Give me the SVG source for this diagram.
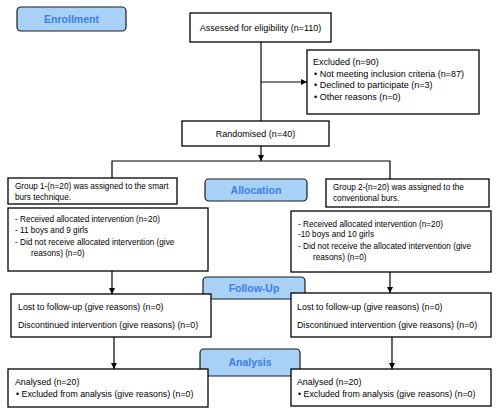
<svg xmlns="http://www.w3.org/2000/svg" width="500" height="414" viewBox="0 0 500 414">
<defs>
<marker id="ah" viewBox="0 0 8 8" refX="8" refY="4" markerWidth="6" markerHeight="6" markerUnits="userSpaceOnUse" orient="auto"><path d="M0,0 L8,4 L0,8 Z" fill="#000"/></marker>
</defs>
<style>
.box{fill:#fff;stroke:#000;stroke-width:1.3}
.stage{fill:#a9d1f7;stroke:#1a1a1a;stroke-width:1.2}
.st{font-family:"Liberation Sans",Arial,sans-serif;font-weight:bold;font-size:10.5px;fill:#3b7ee6;text-anchor:middle}
.t{font-family:"Liberation Sans",Arial,sans-serif;font-size:9px;fill:#000}
.s{font-size:8.2px}
.m{font-size:8.8px}
.c{text-anchor:middle}
.ln{fill:none;stroke:#000;stroke-width:1.2}
</style>
<rect width="500" height="414" fill="#fff"/>
<g id="connectors">
<path class="ln" d="M261,42 V121"/>
<path class="ln" d="M261,82 H307" marker-end="url(#ah)"/>
<path class="ln" d="M261,146 V161" marker-end="url(#ah)"/>
<path class="ln" d="M112,178 V161 H390 V179"/>
<path class="ln" d="M112,271 V294" marker-end="url(#ah)"/>
<path class="ln" d="M390,272 V293" marker-end="url(#ah)"/>
<path class="ln" d="M114,337 V369" marker-end="url(#ah)"/>
<path class="ln" d="M392,337 V369" marker-end="url(#ah)"/>
</g>
<g id="enrollment"><rect class="stage" x="17" y="7" width="109" height="24" rx="4"/><text class="st" x="71.5" y="23">Enrollment</text></g>
<g id="assessed"><rect class="box" x="190" y="13" width="141" height="29"/><text class="t c" x="260.5" y="31">Assessed for eligibility (n=110)</text></g>
<g id="excluded"><rect class="box" x="307" y="50" width="172" height="64"/>
<text class="t" x="313" y="65">Excluded (n=90)</text>
<text class="t" x="314" y="76.5">• Not meeting inclusion criteria (n=87)</text>
<text class="t" x="314" y="88">• Declined to participate (n=3)</text>
<text class="t" x="314" y="99.5">• Other reasons (n=0)</text></g>
<g id="randomised"><rect class="box" x="182" y="121" width="147" height="25"/><text class="t c" x="255.5" y="137">Randomised (n=40)</text></g>
<g id="allocation"><rect class="stage" x="205" y="179" width="102" height="22" rx="4"/><text class="st" x="256" y="194">Allocation</text></g>
<g id="group1"><rect class="box" x="8" y="178" width="169" height="26"/>
<text class="t s" x="15" y="189">Group 1-(n=20) was assigned to the smart</text>
<text class="t s" x="15" y="200">burs technique.</text></g>
<g id="group2"><rect class="box" x="326" y="179" width="163" height="28"/>
<text class="t s" x="333" y="190">Group 2-(n=20) was assigned to the</text>
<text class="t s" x="333" y="201">conventional burs.</text></g>
<g id="intervention1"><rect class="box" x="8" y="208" width="200" height="63"/>
<text class="t s" x="15" y="222">- Received allocated intervention (n=20)</text>
<text class="t s" x="15" y="233">- 11 boys and 9 girls</text>
<text class="t s" x="15" y="245">- Did not receive allocated intervention (give</text>
<text class="t s" x="31" y="256">reasons) (n=0)</text></g>
<g id="intervention2"><rect class="box" x="291" y="211" width="200" height="61"/>
<text class="t s" x="298" y="227">- Received allocated intervention (n=20)</text>
<text class="t s" x="298" y="237">-10 boys and 10 girls</text>
<text class="t s" x="298" y="249">- Did not receive the allocated intervention (give</text>
<text class="t s" x="313" y="260">reasons) (n=0)</text></g>
<g id="followup"><rect class="stage" x="203" y="277" width="102" height="22" rx="4"/><text class="st" x="254" y="292">Follow-Up</text></g>
<g id="followup1"><rect class="box" x="11" y="294" width="200" height="43"/>
<text class="t m" x="18" y="310">Lost to follow-up (give reasons) (n=0)</text>
<text class="t m" x="18" y="328">Discontinued intervention (give reasons) (n=0)</text></g>
<g id="followup2"><rect class="box" x="291" y="293" width="200" height="44"/>
<text class="t m" x="297" y="310">Lost to follow-up (give reasons) (n=0)</text>
<text class="t m" x="297" y="328">Discontinued intervention (give reasons) (n=0)</text></g>
<g id="analysis"><rect class="stage" x="200" y="349" width="100" height="27" rx="4"/><text class="st" x="250" y="366">Analysis</text></g>
<g id="analysis1"><rect class="box" x="8" y="369" width="200" height="38"/>
<text class="t m" x="15" y="385">Analysed (n=20)</text>
<text class="t m" x="16" y="397">• Excluded from analysis (give reasons) (n=0)</text></g>
<g id="analysis2"><rect class="box" x="291" y="369" width="200" height="37"/>
<text class="t m" x="297" y="385">Analysed (n=20)</text>
<text class="t m" x="298" y="397">• Excluded from analysis (give reasons) (n=0)</text></g>
</svg>
